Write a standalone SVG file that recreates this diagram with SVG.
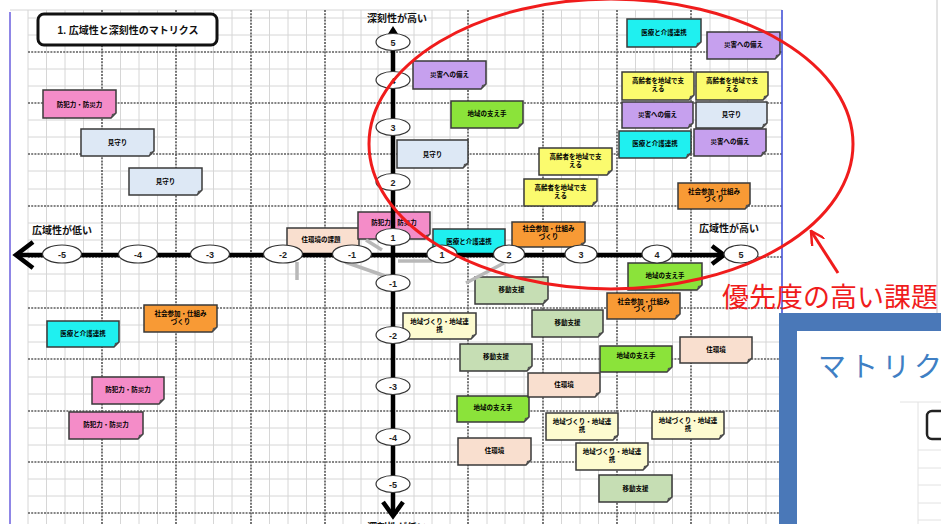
<svg xmlns="http://www.w3.org/2000/svg" width="941" height="524" viewBox="0 0 941 524">
  <style>
    .minor { stroke: #d6d6d6; stroke-width: 1; fill: none; }
    .major { stroke: #5e5e5e; stroke-width: 1.7; stroke-dasharray: 2 1.2; fill: none; }
    .node path { stroke: #3a3a3a; stroke-width: 1.5; }
    .node path.fold { fill: #555; stroke: none; }
    .node text { font-family: "Liberation Sans", "Noto Sans CJK JP", sans-serif; font-size: 6.5px; font-weight: bold; text-anchor: middle; fill: #000; }
    .pink path { fill: #f48cc8; }
    .sky path { fill: #dde8f5; }
    .cyan path { fill: #1ff0f0; }
    .lav path { fill: #c6a0ee; }
    .lime path { fill: #8be33a; }
    .yel path { fill: #fbfb6e; }
    .ora path { fill: #f89a35; }
    .sage path { fill: #c6deb4; }
    .peach path { fill: #f9dfcf; }
    .cream path { fill: #fdfbd0; }
    .axis { stroke: #000; stroke-width: 4.5; fill: none; }
    .shadow { stroke: #b8b8b8; stroke-width: 3.5; fill: none; }
    .tick ellipse { fill: #fff; stroke: #333; stroke-width: 1.2; }
    .tick text { font-family: "Liberation Sans", sans-serif; font-size: 9px; font-weight: bold; text-anchor: middle; fill: #222; }
    .lbl { font-family: "Liberation Sans", "Noto Sans CJK JP", sans-serif; font-size: 10px; font-weight: bold; fill: #111; text-anchor: middle; }
  </style>
  <defs>
    <marker id="redhead" viewBox="0 0 12 12" refX="11" refY="6" markerWidth="5" markerHeight="5" orient="auto" markerUnits="strokeWidth">
      <path d="M0,0L11,6L0,12" fill="none" stroke="#f01c1c" stroke-width="2"/>
    </marker>
  </defs>

  <rect width="941" height="524" fill="#fff"/>

  <!-- spreadsheet grid -->
  <g id="grid">
    <path class="minor" d="M10,10H782M28,18H782M28,35H782M28,69H782M28,86H782M28,120H782M28,137H782M28,171H782M28,189H782M28,223H782M28,240H782M28,274H782M28,291H782M28,325H782M28,342H782M28,377H782M28,394H782M28,428H782M28,445H782M28,479H782M28,496H782"/>
    <path class="minor" d="M28,10V524M46.5,10V524M65,10V524M83.5,10V524M120.5,10V524M139,10V524M157.5,10V524M195,10V524M213.5,10V524M232,10V524M269.5,10V524M288,10V524M306.5,10V524M343,10V524M361,10V524M378,10V524M414,10V524M432,10V524M450,10V524M487,10V524M505,10V524M524,10V524M561.5,10V524M580,10V524M598.5,10V524M635.5,10V524M654,10V524M672.5,10V524M710,10V524M729,10V524M747.5,10V524M766,10V524"/>
    <path class="major" d="M28,52H782M28,103H782M28,154H782M28,206H782M28,257H782M28,308H782M28,359H782M28,411H782M28,462H782M28,513H782"/>
    <path class="major" d="M102,10V524M176,10V524M251,10V524M325,10V524M468,10V524M543,10V524M617,10V524M691,10V524"/>
    <line x1="10" y1="12" x2="10" y2="524" stroke="#8f86e6" stroke-width="2"/>
    <line x1="782" y1="10" x2="782" y2="314" stroke="#4452d8" stroke-width="1.6"/>
    <line x1="937" y1="0" x2="937" y2="314" stroke="#c8c8c8" stroke-width="1"/>
  </g>

  <!-- title -->
  <g id="title">
    <rect x="38" y="14" width="179" height="31" rx="6" fill="#fff" stroke="#111" stroke-width="3"/>
    <text class="lbl" x="128" y="34">1. 広域性と深刻性のマトリクス</text>
  </g>

  <!-- issue cards -->
  <g id="n1" class="node pink"><path d="M43,90h73v23l-5,5H43Z"/><path class="fold" d="M111,118l5-5l-4,1z"/><text x="79.5" y="106.5">防犯力・防災力</text></g>
  <g id="n2" class="node sky"><path d="M81,129h73v22l-5,5H81Z"/><path class="fold" d="M149,156l5-5l-4,1z"/><text x="117.5" y="145">見守り</text></g>
  <g id="n3" class="node sky"><path d="M129,168h73v22l-5,5H129Z"/><path class="fold" d="M197,195l5-5l-4,1z"/><text x="165.5" y="184">見守り</text></g>
  <g id="n4" class="node peach"><path d="M287,228h72v23l-5,5H287Z"/><path class="fold" d="M354,256l5-5l-4,1z"/><text x="321" y="242">住環境の課題</text></g>
  <g id="n5" class="node pink"><path d="M358,212h72v22l-5,5H358Z"/><path class="fold" d="M425,239l5-5l-4,1z"/><text x="394" y="225">防犯力・防災力</text></g>
  <g id="n6" class="node cyan"><path d="M433,229h72v22l-5,5H433Z"/><path class="fold" d="M500,256l5-5l-4,1z"/><text x="469" y="244">医療と介護連携</text></g>
  <g id="n7" class="node ora"><path d="M512,222h73v20l-5,5H512Z"/><path class="fold" d="M580,247l5-5l-4,1z"/><text x="548.5" y="231">社会参加・仕組み<tspan x="548.5" dy="7.5">づくり</tspan></text></g>
  <g id="n8" class="node yel"><path d="M539,148h73v22l-5,5H539Z"/><path class="fold" d="M607,175l5-5l-4,1z"/><text x="575.5" y="159">高齢者を地域で支<tspan x="575.5" dy="8">える</tspan></text></g>
  <g id="n9" class="node yel"><path d="M524,179h73v22l-5,5H524Z"/><path class="fold" d="M592,206l5-5l-4,1z"/><text x="560.5" y="190">高齢者を地域で支<tspan x="560.5" dy="8">える</tspan></text></g>
  <g id="n10" class="node sky"><path d="M397,140h71v23l-5,5H397Z"/><path class="fold" d="M463,168l5-5l-4,1z"/><text x="432.5" y="156.5">見守り</text></g>
  <g id="n11" class="node lime"><path d="M451,101h72v22l-5,5H451Z"/><path class="fold" d="M518,128l5-5l-4,1z"/><text x="487" y="116">地域の支え手</text></g>
  <g id="n12" class="node lav"><path d="M413,61h73v23l-5,5H413Z"/><path class="fold" d="M481,89l5-5l-4,1z"/><text x="449.5" y="77">災害への備え</text></g>
  <g id="n13" class="node cyan"><path d="M627,19h74v23l-5,5H627Z"/><path class="fold" d="M696,47l5-5l-4,1z"/><text x="664" y="35">医療と介護連携</text></g>
  <g id="n14" class="node lav"><path d="M707,32h73v22l-5,5H707Z"/><path class="fold" d="M775,59l5-5l-4,1z"/><text x="743.5" y="47">災害への備え</text></g>
  <g id="n15" class="node yel"><path d="M622,72h72v23l-5,5H622Z"/><path class="fold" d="M689,100l5-5l-4,1z"/><text x="658" y="83">高齢者を地域で支<tspan x="658" dy="8">える</tspan></text></g>
  <g id="n16" class="node yel"><path d="M696,72h72v23l-5,5H696Z"/><path class="fold" d="M763,100l5-5l-4,1z"/><text x="732" y="83">高齢者を地域で支<tspan x="732" dy="8">える</tspan></text></g>
  <g id="n17" class="node lav"><path d="M622,102h71v21l-5,5H622Z"/><path class="fold" d="M688,128l5-5l-4,1z"/><text x="657.5" y="117">災害への備え</text></g>
  <g id="n18" class="node sky"><path d="M696,102h71v21l-5,5H696Z"/><path class="fold" d="M762,128l5-5l-4,1z"/><text x="731.5" y="117">見守り</text></g>
  <g id="n19" class="node cyan"><path d="M619,131h72v22l-5,5H619Z"/><path class="fold" d="M686,158l5-5l-4,1z"/><text x="655" y="146">医療と介護連携</text></g>
  <g id="n20" class="node lav"><path d="M694,129h72v22l-5,5H694Z"/><path class="fold" d="M761,156l5-5l-4,1z"/><text x="730" y="144">災害への備え</text></g>
  <g id="n21" class="node ora"><path d="M678,183h72v21l-5,5H678Z"/><path class="fold" d="M745,209l5-5l-4,1z"/><text x="714" y="193.5">社会参加・仕組み<tspan x="714" dy="7.5">づくり</tspan></text></g>
  <g id="n22" class="node lime"><path d="M628,263h74v22l-5,5H628Z"/><path class="fold" d="M697,290l5-5l-4,1z"/><text x="665" y="278">地域の支え手</text></g>
  <g id="n23" class="node ora"><path d="M607,293h73v21l-5,5H607Z"/><path class="fold" d="M675,319l5-5l-4,1z"/><text x="643.5" y="303.5">社会参加・仕組み<tspan x="643.5" dy="7.5">づくり</tspan></text></g>
  <g id="n24" class="node peach"><path d="M680,337h72v21l-5,5H680Z"/><path class="fold" d="M747,363l5-5l-4,1z"/><text x="716" y="352">住環境</text></g>
  <g id="n25" class="node lime"><path d="M600,346h72v21l-5,5H600Z"/><path class="fold" d="M667,372l5-5l-4,1z"/><text x="636" y="358">地域の支え手</text></g>
  <g id="n26" class="node cream"><path d="M652,412h72v22l-5,5H652Z"/><path class="fold" d="M719,439l5-5l-4,1z"/><text x="688" y="422.5">地域づくり・地域連<tspan x="688" dy="8">携</tspan></text></g>
  <g id="n27" class="node cream"><path d="M576,443h72v22l-5,5H576Z"/><path class="fold" d="M643,470l5-5l-4,1z"/><text x="612" y="453.5">地域づくり・地域連<tspan x="612" dy="8">携</tspan></text></g>
  <g id="n28" class="node sage"><path d="M599,475h73v22l-5,5H599Z"/><path class="fold" d="M667,502l5-5l-4,1z"/><text x="635.5" y="491">移動支援</text></g>
  <g id="n29" class="node cream"><path d="M546,413h72v22l-5,5H546Z"/><path class="fold" d="M613,440l5-5l-4,1z"/><text x="582" y="423.5">地域づくり・地域連<tspan x="582" dy="8">携</tspan></text></g>
  <g id="n30" class="node peach"><path d="M458,438h73v22l-5,5H458Z"/><path class="fold" d="M526,465l5-5l-4,1z"/><text x="494.5" y="453">住環境</text></g>
  <g id="n31" class="node lime"><path d="M457,396h72v21l-5,5H457Z"/><path class="fold" d="M524,422l5-5l-4,1z"/><text x="493" y="410">地域の支え手</text></g>
  <g id="n32" class="node peach"><path d="M528,373h72v19l-5,5H528Z"/><path class="fold" d="M595,397l5-5l-4,1z"/><text x="564" y="387">住環境</text></g>
  <g id="n33" class="node sage"><path d="M460,344h72v22l-5,5H460Z"/><path class="fold" d="M527,371l5-5l-4,1z"/><text x="496" y="359">移動支援</text></g>
  <g id="n34" class="node cream"><path d="M403,313h73v21l-5,5H403Z"/><path class="fold" d="M471,339l5-5l-4,1z"/><text x="439.5" y="323.5">地域づくり・地域連<tspan x="439.5" dy="8">携</tspan></text></g>
  <g id="n35" class="node sage"><path d="M532,310h71v22l-5,5H532Z"/><path class="fold" d="M598,337l5-5l-4,1z"/><text x="567.5" y="325">移動支援</text></g>
  <g id="n36" class="node sage"><path d="M475,277h73v22l-5,5H475Z"/><path class="fold" d="M543,304l5-5l-4,1z"/><text x="511.5" y="292">移動支援</text></g>
  <g id="n37" class="node ora"><path d="M144,305h73v22l-5,5H144Z"/><path class="fold" d="M212,332l5-5l-4,1z"/><text x="180.5" y="315.5">社会参加・仕組み<tspan x="180.5" dy="8">づくり</tspan></text></g>
  <g id="n38" class="node cyan"><path d="M47,321h72v21l-5,5H47Z"/><path class="fold" d="M114,347l5-5l-4,1z"/><text x="83" y="336">医療と介護連携</text></g>
  <g id="n39" class="node pink"><path d="M92,377h72v22l-5,5H92Z"/><path class="fold" d="M159,404l5-5l-4,1z"/><text x="128" y="392">防犯力・防災力</text></g>
  <g id="n40" class="node pink"><path d="M69,412h74v22l-5,5H69Z"/><path class="fold" d="M138,439l5-5l-4,1z"/><text x="106" y="427">防犯力・防災力</text></g>

  <!-- axes and their faint shadow strokes -->
  <g id="connectors">
    <path class="shadow" d="M297,262V280M345,262L388,277M366,240L382,250M466,283L504,263"/>
    <path class="shadow" d="M398,261H432" stroke-width="3"/>
    <path class="axis" d="M20,255H722"/>
    <path class="axis" d="M33,242L16,255L33,268"/>
    <path class="axis" d="M712,246L724,255L712,264"/>
    <path class="axis" d="M393,36V514"/>
    <path d="M386,37L400,37L393,26Z" fill="#000"/>
    <path class="axis" d="M383,502L393,516L403,502"/>
  </g>

  <!-- scale marks -->
  <g id="ticks" class="tick">
    <ellipse cx="62" cy="254" rx="19.5" ry="9"/><text x="62" y="257.5">-5</text>
    <ellipse cx="138" cy="254" rx="19.5" ry="9"/><text x="138" y="257.5">-4</text>
    <ellipse cx="210" cy="254" rx="19.5" ry="9"/><text x="210" y="257.5">-3</text>
    <ellipse cx="283" cy="254" rx="19.5" ry="9"/><text x="283" y="257.5">-2</text>
    <ellipse cx="352" cy="254" rx="19.5" ry="9"/><text x="352" y="257.5">-1</text>
    <ellipse cx="442" cy="254" rx="15" ry="9"/><text x="442" y="257.5">1</text>
    <ellipse cx="509" cy="254" rx="15.5" ry="9"/><text x="509" y="257.5">2</text>
    <ellipse cx="581" cy="254" rx="16" ry="9"/><text x="581" y="257.5">3</text>
    <ellipse cx="657" cy="254" rx="15" ry="9"/><text x="657" y="257.5">4</text>
    <ellipse cx="741" cy="254" rx="17" ry="9"/><text x="741" y="257.5">5</text>
    <ellipse cx="393" cy="42" rx="17" ry="8.5"/><text x="393" y="45.5">5</text>
    <ellipse cx="393" cy="80" rx="17" ry="8.5"/><text x="393" y="83.5">4</text>
    <ellipse cx="393" cy="127" rx="17" ry="8.5"/><text x="393" y="130.5">3</text>
    <ellipse cx="393" cy="182" rx="17" ry="8.5"/><text x="393" y="185.5">2</text>
    <ellipse cx="393" cy="237" rx="17" ry="8.5"/><text x="393" y="240.5">1</text>
    <ellipse cx="393" cy="283" rx="17" ry="8.5"/><text x="393" y="286.5">-1</text>
    <ellipse cx="393" cy="335" rx="17" ry="8.5"/><text x="393" y="338.5">-2</text>
    <ellipse cx="393" cy="386" rx="17" ry="8.5"/><text x="393" y="389.5">-3</text>
    <ellipse cx="393" cy="437" rx="17" ry="8.5"/><text x="393" y="440.5">-4</text>
    <ellipse cx="393" cy="484" rx="17" ry="8.5"/><text x="393" y="487.5">-5</text>
  </g>

  <!-- axis captions -->
  <g id="axis-labels">
    <text class="lbl" x="397" y="22">深刻性が高い</text>
    <text class="lbl" x="62" y="234">広域性が低い</text>
    <text class="lbl" x="729" y="232">広域性が高い</text>
    <text class="lbl" x="397" y="531">深刻性が低い</text>
  </g>

  <!-- highlighted priority zone -->
  <g id="priority">
    <ellipse cx="611" cy="144" rx="242" ry="145" fill="none" stroke="#f01c1c" stroke-width="3"/>
    <line x1="838" y1="273" x2="811" y2="231" stroke="#f01c1c" stroke-width="3" marker-end="url(#redhead)"/>
    <text x="722" y="307" font-family="'Noto Sans CJK JP', sans-serif" font-size="27" fill="#f01c1c">優先度の高い課題</text>
  </g>

  <!-- neighbouring slide panel -->
  <g id="panel">
    <rect x="779" y="313" width="170" height="220" fill="#4a78b8"/>
    <rect x="797" y="331" width="150" height="200" fill="#fff"/>
    <path d="M918,402V524M900,402H941M918,450H941M918,468H941M918,485H941M918,503H941M918,520H941" stroke="#e2e2e2" stroke-width="1" fill="none"/>
    <rect x="927" y="411" width="30" height="28" rx="5" fill="#fff" stroke="#222" stroke-width="2.5"/>
    <text x="818" y="377" font-family="'Noto Sans CJK JP', sans-serif" font-size="28" letter-spacing="4" fill="#3f7fc4">マトリク</text>
  </g>
</svg>
